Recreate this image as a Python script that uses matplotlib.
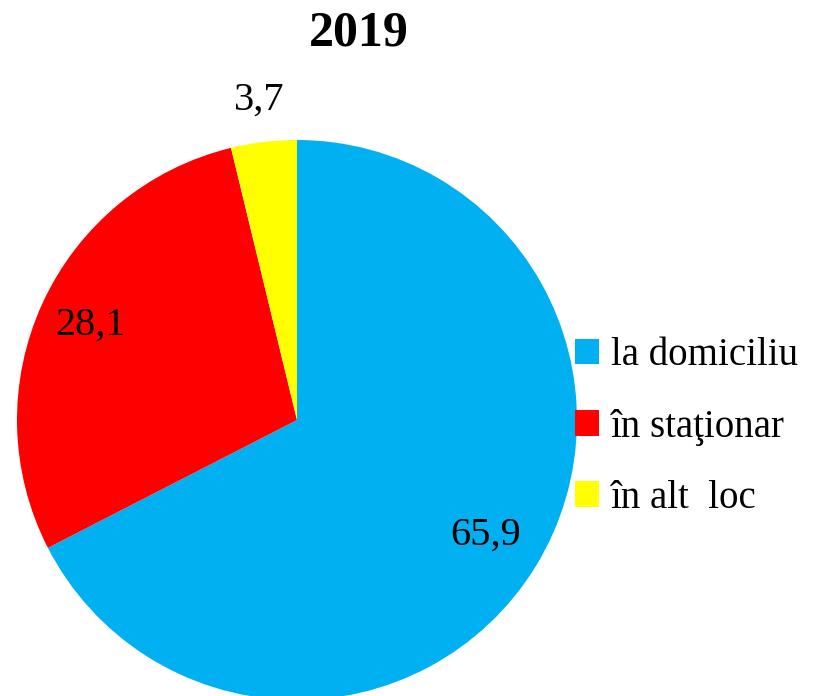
import numpy as np
import matplotlib
matplotlib.use("Agg")
import matplotlib.pyplot as plt
from matplotlib.patches import Patch

categories = ["la domiciliu", "în staţionar", "în alt  loc"]
values = [65.9, 28.1, 3.7]
value_labels = ["65,9", "28,1", "3,7"]
colors = ["#00B0F0", "#FF0000", "#FFFF00"]
title = "2019"

plt.rcParams['font.family'] = ['Liberation Serif', 'DejaVu Serif']

fig = plt.figure(figsize=(8.21, 6.96), dpi=100)
W, H = 821, 696
cx, cy, r = 297, 420, 280
ax = fig.add_axes([(cx - r) / W, (H - cy - r) / H, 2 * r / W, 2 * r / H])
wedges, _ = ax.pie(values, colors=colors, startangle=90, counterclock=False,
                   radius=1, wedgeprops=dict(linewidth=0))
ax.set_xlim(-1, 1)
ax.set_ylim(-1, 1)
ax.set_aspect('equal')
ax.axis('off')

dists = [0.79, 0.81, 1.15]
for w, lab, d in zip(wedges, value_labels, dists):
    ang = np.deg2rad((w.theta1 + w.theta2) / 2)
    ax.text(d * np.cos(ang), d * np.sin(ang), lab, ha='center', va='center',
            fontsize=29, clip_on=False)

fig.text(359 / W, 1 - 34 / H, title, ha='center', va='center',
         fontsize=36, fontweight='bold')

handles = [Patch(facecolor=c, edgecolor='none') for c in colors]
fig.legend(handles, categories, loc='center left', bbox_to_anchor=(559 / W, 1 - 427 / H),
           frameon=False, fontsize=28, handlelength=0.64, handleheight=0.64,
           handletextpad=0.3, labelspacing=0.88, borderaxespad=0)

fig.savefig("out.png", dpi=100)
